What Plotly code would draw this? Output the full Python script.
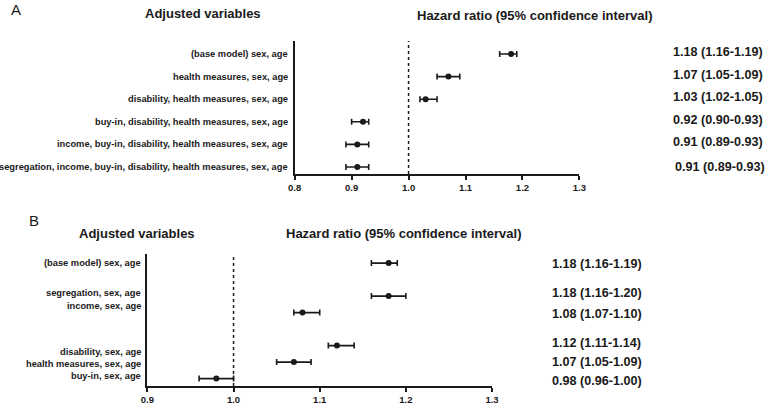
import plotly.graph_objects as go

# ---------------- data ----------------
a_labels = [
    "(base model) sex, age",
    "health measures, sex, age",
    "disability, health measures, sex, age",
    "buy-in, disability, health measures, sex, age",
    "income, buy-in, disability, health measures, sex, age",
    "segregation, income, buy-in, disability, health measures, sex, age",
]
a_hr = [1.18, 1.07, 1.03, 0.92, 0.91, 0.91]
a_lo = [1.16, 1.05, 1.02, 0.90, 0.89, 0.89]
a_hi = [1.19, 1.09, 1.05, 0.93, 0.93, 0.93]

b_labels = [
    "(base model) sex, age",
    "segregation, sex, age",
    "income, sex, age",
    "disability, sex, age",
    "health measures, sex, age",
    "buy-in, sex, age",
]
b_hr = [1.18, 1.18, 1.08, 1.12, 1.07, 0.98]
b_lo = [1.16, 1.16, 1.07, 1.11, 1.05, 0.96]
b_hi = [1.19, 1.20, 1.10, 1.14, 1.09, 1.00]

a_ticks = [0.8, 0.9, 1.0, 1.1, 1.2, 1.3]
b_ticks = [0.9, 1.0, 1.1, 1.2, 1.3]

# row layout (positions on the categorical rows)
a_rows = [0, 1, 2, 3, 4, 5]
a_text_rows = [-0.09, -0.09, -0.09, -0.09, -0.09, 0.0]
b_rows = [0, 2, 3, 5, 6, 7]
b_label_rows = [0, 1.82, 2.6, 5.4, 6.1, 6.85]
b_text_rows = [0.06, 1.82, 3.09, 4.85, 6.0, 7.15]

FONT = "Liberation Sans, Arial, sans-serif"
INK = "#1a1a1a"
W, H = 770, 405


def fmt(h, l, u):
    return f"{h:.2f} ({l:.2f}-{u:.2f})"


fig = go.Figure()

fig.add_trace(go.Scatter(
    x=a_hr, y=a_rows, mode="markers", xaxis="x", yaxis="y",
    marker=dict(size=6, color=INK),
    error_x=dict(type="data", symmetric=False,
                 array=[u - h for u, h in zip(a_hi, a_hr)],
                 arrayminus=[h - l for h, l in zip(a_hr, a_lo)],
                 color=INK, thickness=1.6, width=3),
    showlegend=False, hoverinfo="skip",
))
fig.add_trace(go.Scatter(
    x=b_hr, y=b_rows, mode="markers", xaxis="x2", yaxis="y2",
    marker=dict(size=6, color=INK),
    error_x=dict(type="data", symmetric=False,
                 array=[u - h for u, h in zip(b_hi, b_hr)],
                 arrayminus=[h - l for h, l in zip(b_hr, b_lo)],
                 color=INK, thickness=1.6, width=3),
    showlegend=False, hoverinfo="skip",
))

axis_common = dict(showline=True, linecolor=INK, linewidth=2, showgrid=False,
                   zeroline=False, ticks="outside", ticklen=4, tickwidth=1.5,
                   tickcolor=INK, tickformat=".1f",
                   tickfont=dict(family=FONT, size=9.5, color=INK, weight="bold"))
yaxis_common = dict(showline=True, linecolor=INK, linewidth=2, showgrid=False,
                    zeroline=False, showticklabels=False, ticks="")

fig.update_layout(
    width=W, height=H,
    margin=dict(l=0, r=0, t=0, b=0),
    paper_bgcolor="white", plot_bgcolor="white",
    xaxis=dict(domain=[293 / W, 583 / W], range=[0.8, 1.3],
               tickvals=a_ticks, anchor="y", **axis_common),
    yaxis=dict(domain=[(H - 174) / H, (H - 41) / H], range=[5.31, -0.575],
               anchor="x", **yaxis_common),
    xaxis2=dict(domain=[143 / W, 494 / W], range=[0.9, 1.3],
                tickvals=b_ticks, anchor="y2", **axis_common),
    yaxis2=dict(domain=[(H - 386) / H, (H - 254) / H], range=[7.45, -0.55],
                anchor="x2", **yaxis_common),
)

# reference line at HR = 1
for xr, yr in (("x", "y domain"), ("x2", "y2 domain")):
    fig.add_shape(type="line", xref=xr, yref=yr, x0=1.0, x1=1.0, y0=0, y1=1,
                  line=dict(color=INK, width=1.5, dash="dot"))

ann = []
lab_font = dict(family=FONT, size=9.3, color=INK, weight="bold")
val_font = dict(family=FONT, size=12.6, color=INK, weight="bold")
tit_font = dict(family=FONT, size=13, color=INK, weight="bold")

for lab, r in zip(a_labels, a_rows):
    ann.append(dict(text=lab, x=288 / W, xref="paper", xanchor="right",
                    y=r, yref="y", yanchor="middle", showarrow=False, font=lab_font))
for i, (h, l, u) in enumerate(zip(a_hr, a_lo, a_hi)):
    ann.append(dict(text=fmt(h, l, u), x=676 / W if i < 5 else 678 / W, xref="paper",
                    xanchor="left", y=a_rows[i] + a_text_rows[i], yref="y",
                    yanchor="middle", showarrow=False, font=val_font))

for lab, r in zip(b_labels, b_label_rows):
    ann.append(dict(text=lab, x=139 / W, xref="paper", xanchor="right",
                    y=r, yref="y2", yanchor="middle", showarrow=False, font=lab_font))
for h, l, u, r in zip(b_hr, b_lo, b_hi, b_text_rows):
    ann.append(dict(text=fmt(h, l, u), x=553 / W, xref="paper", xanchor="left",
                    y=r, yref="y2", yanchor="middle", showarrow=False, font=val_font))

# titles and panel letters
titles = [
    ("Adjusted variables", 200, 14, tit_font),
    ("Hazard ratio (95% confidence interval)", 538, 15, tit_font),
    ("Adjusted variables", 132, 233, tit_font),
    ("Hazard ratio (95% confidence interval)", 404, 233, tit_font),
]
for t, px, py, f in titles:
    ann.append(dict(text=t, x=px / W, y=(H - py) / H, xref="paper", yref="paper",
                    xanchor="center", yanchor="middle", showarrow=False, font=f))
letter_font = dict(family=FONT, size=15, color=INK)
ann.append(dict(text="A", x=2 / W, y=(H - 9) / H, xref="paper", yref="paper",
                xanchor="left", yanchor="middle", showarrow=False, font=letter_font))
ann.append(dict(text="B", x=20 / W, y=(H - 221) / H, xref="paper", yref="paper",
                xanchor="left", yanchor="middle", showarrow=False, font=letter_font))

fig.update_layout(annotations=ann)
fig.write_html("out.html",
               config={"displayModeBar": False},
               post_script="document.body.style.margin='0';document.body.style.padding='0';")
